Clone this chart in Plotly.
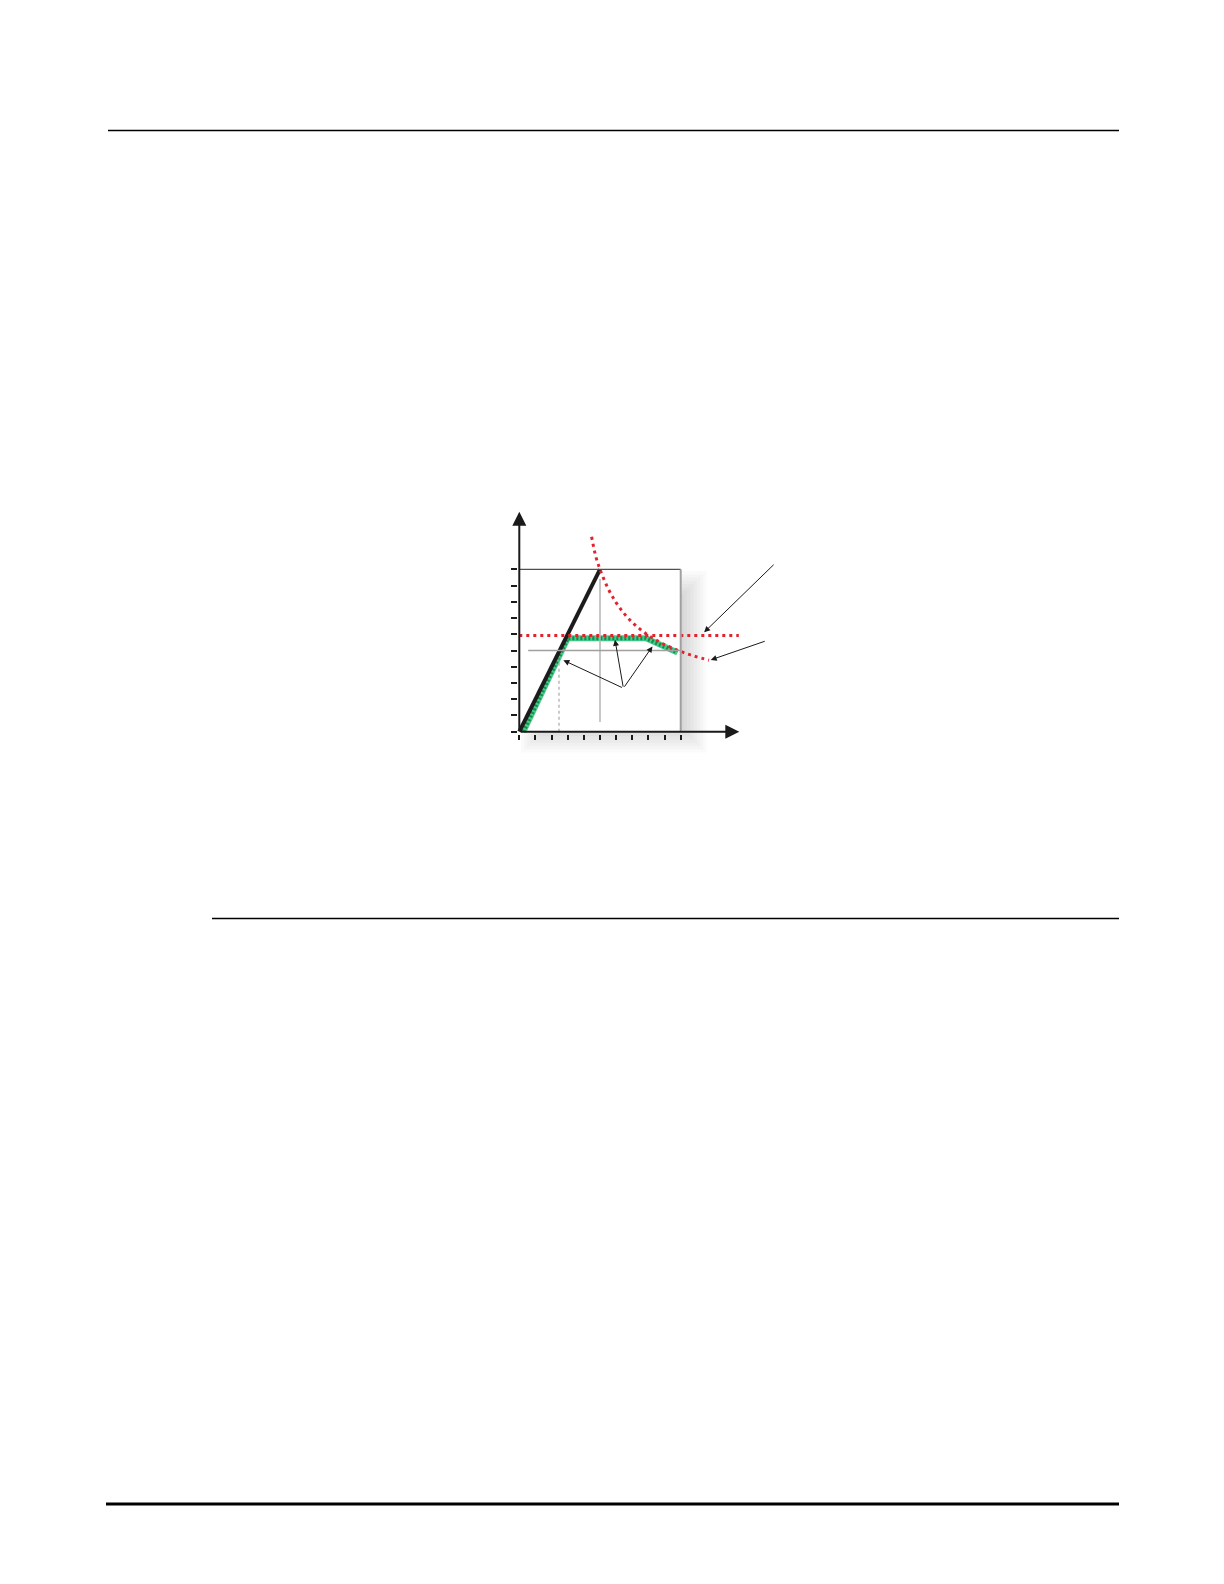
import plotly.graph_objects as go

# ---- page geometry (pixels of the 1224x1584 sheet) ----
PAGE_W, PAGE_H = 1224, 1584
BODY_MARGIN = 8                    # browser default body margin
FIG_W, FIG_H = PAGE_W - BODY_MARGIN, PAGE_H - BODY_MARGIN
X0_PX, X_UNIT = 519.3, 16.14      # where x=0 sits and px per x unit
Y0_PX, Y_UNIT = 731.7, 16.24      # where y=0 sits (from top) and px per y unit

# ---- chart data ----
tick_vals = list(range(0, 11))

input_line_x = [0, 5]
input_line_y = [0, 10]

output_x = [0.25, 3.0, 7.85, 9.8]
output_y = [0, 5.75, 5.75, 4.88]

limit_x = [0, 13.6]
limit_y = [5.92, 5.92]

curve_x = [4.48, 4.75, 5.0, 5.5, 6.0, 6.5, 7.0, 7.5, 8.0, 8.5, 9.0, 9.5, 10.0, 10.5, 11.0, 11.75]
curve_y = [12.0, 10.75, 10.0, 8.82, 7.95, 7.27, 6.73, 6.3, 5.93, 5.63, 5.36, 5.14, 4.94, 4.76, 4.61, 4.4]

# arrows: (tail_x, tail_y, head_x, head_y)
callouts = [
    (15.85, 10.37, 11.45, 6.12),
    (15.3, 5.6, 11.86, 4.42),
    (6.45, 2.68, 2.73, 4.4),
    (6.45, 2.68, 5.93, 5.66),
    (6.45, 2.68, 8.25, 5.25),
]


def px_to_x(px):
    return (px - X0_PX) / X_UNIT


def px_to_y(px):
    return (Y0_PX - px) / Y_UNIT


def paper_x(px):
    return (px - BODY_MARGIN) / FIG_W


def paper_y(px):
    return 1 - (px - BODY_MARGIN) / FIG_H


fig = go.Figure()

# drop shadow behind the chart box, built up from faint layers
shapes = []
for k in range(14):
    r = -1.3 + k * 0.2
    shapes.append(dict(
        type="rect", xref="x", yref="y", layer="below",
        x0=1.4 - r, x1=10.3 + r, y0=0.0 - r, y1=8.6 + r,
        line=dict(width=0), fillcolor="rgba(0,0,0,0.021)",
    ))
# white box face
shapes.append(dict(type="rect", xref="x", yref="y", layer="below",
                   x0=0, x1=10, y0=0, y1=10,
                   line=dict(width=0), fillcolor="white"))
# box top / right edges
shapes.append(dict(type="line", xref="x", yref="y", x0=0, x1=10, y0=10, y1=10,
                   line=dict(color="#505050", width=1.2)))
shapes.append(dict(type="line", xref="x", yref="y", x0=10, x1=10, y0=0, y1=10,
                   line=dict(color="#a0a0a0", width=2)))
# guide lines
shapes.append(dict(type="line", xref="x", yref="y", x0=5, x1=5, y0=0.6, y1=9.4,
                   line=dict(color="#b4b4b4", width=1.5)))
shapes.append(dict(type="line", xref="x", yref="y", x0=0.55, x1=10, y0=5, y1=5,
                   line=dict(color="#a0a0a0", width=1.3)))
shapes.append(dict(type="line", xref="x", yref="y", x0=2.46, x1=2.46, y0=0, y1=4.5,
                   line=dict(color="#a8a8a8", width=1.2, dash="3px,3px")))

# page rules
def rule(px_y, px_x0, px_x1, w):
    return dict(type="line", xref="paper", yref="paper",
                x0=paper_x(px_x0), x1=paper_x(px_x1),
                y0=paper_y(px_y), y1=paper_y(px_y),
                line=dict(color="black", width=w))

shapes.append(rule(130.5, 108, 1119, 1.5))
shapes.append(rule(918.5, 212, 1119, 1.4))
shapes.append(rule(1504, 106, 1119, 3))

# ---- traces ----
fig.add_trace(go.Scatter(
    x=output_x, y=output_y, mode="lines",
    line=dict(color="#45cc8f", width=6), hoverinfo="skip",
))
fig.add_trace(go.Scatter(
    x=output_x, y=output_y, mode="lines",
    line=dict(color="#1a8a45", width=4, dash="2px,2px"), hoverinfo="skip",
))
fig.add_trace(go.Scatter(
    x=input_line_x, y=input_line_y, mode="lines",
    line=dict(color="#1c1c1c", width=4), hoverinfo="skip",
))
fig.add_trace(go.Scatter(
    x=limit_x, y=limit_y, mode="lines",
    line=dict(color="#e2232e", width=3, dash="3px,4px"), hoverinfo="skip",
))
fig.add_trace(go.Scatter(
    x=curve_x, y=curve_y, mode="lines", line_shape="spline",
    line=dict(color="#e2232e", width=3, dash="3px,4px"), hoverinfo="skip",
))

# ---- arrows ----
annotations = []
# main axes
annotations.append(dict(x=0, y=13.55, ax=0, ay=0, xref="x", yref="y", axref="x", ayref="y",
                        text="", showarrow=True, arrowhead=2, arrowsize=1.4,
                        arrowwidth=2, arrowcolor="#1a1a1a"))
annotations.append(dict(x=13.63, y=0, ax=0, ay=0, xref="x", yref="y", axref="x", ayref="y",
                        text="", showarrow=True, arrowhead=2, arrowsize=1.4,
                        arrowwidth=2, arrowcolor="#1a1a1a"))
for tx, ty, hx, hy in callouts:
    annotations.append(dict(x=hx, y=hy, ax=tx, ay=ty, xref="x", yref="y",
                            axref="x", ayref="y", text="", showarrow=True,
                            arrowhead=2, arrowsize=1.2, arrowwidth=1,
                            arrowcolor="#1a1a1a"))

fig.update_layout(
    width=FIG_W, height=FIG_H,
    margin=dict(l=0, r=0, t=0, b=0),
    paper_bgcolor="white", plot_bgcolor="white",
    showlegend=False,
    shapes=shapes, annotations=annotations,
    xaxis=dict(
        range=[px_to_x(BODY_MARGIN), px_to_x(BODY_MARGIN + FIG_W)], domain=[0, 1],
        anchor="free", position=paper_y(733.5),
        tickvals=tick_vals, ticks="outside", ticklen=5, tickwidth=2,
        tickcolor="#1a1a1a", showticklabels=False,
        showgrid=False, zeroline=False, showline=False,
    ),
    yaxis=dict(
        range=[px_to_y(BODY_MARGIN + FIG_H), px_to_y(BODY_MARGIN)], domain=[0, 1],
        anchor="free", position=paper_x(516.5),
        tickvals=tick_vals, ticks="outside", ticklen=6, tickwidth=2,
        tickcolor="#1a1a1a", showticklabels=False,
        showgrid=False, zeroline=False, showline=False,
    ),
)

fig.write_html("out.html")
